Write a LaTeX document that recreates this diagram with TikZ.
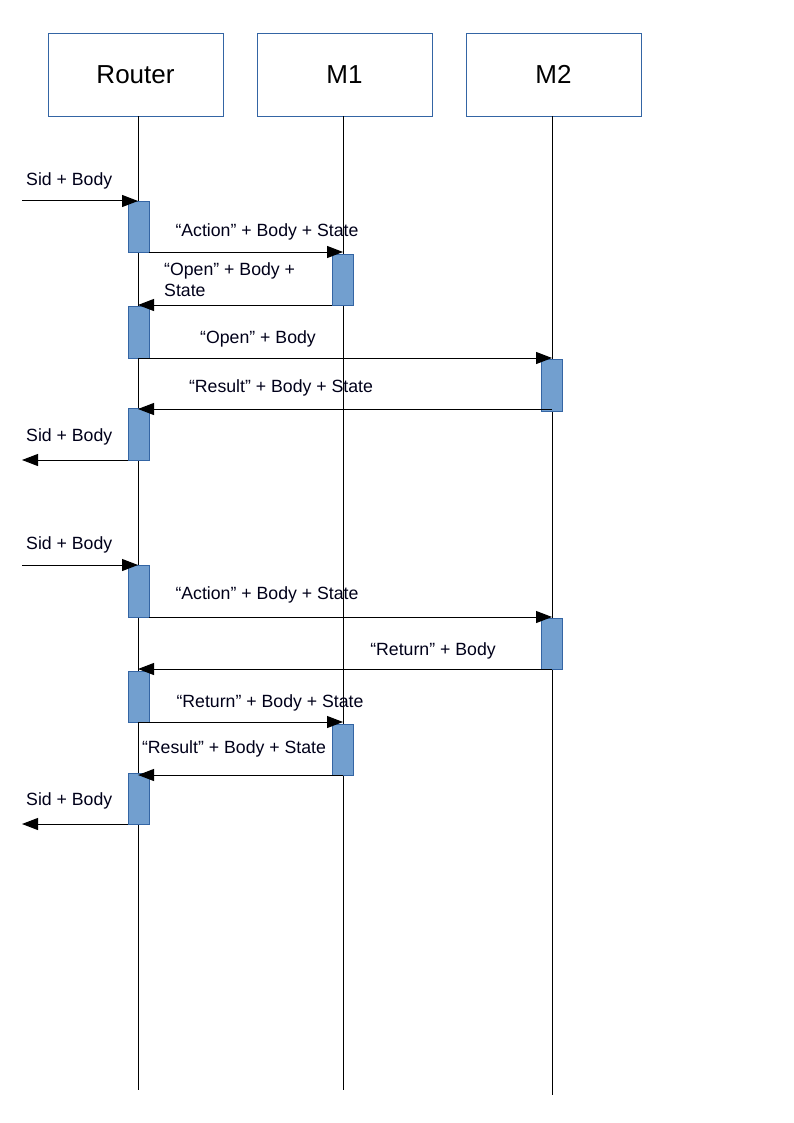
\documentclass[tikz,border=0pt]{standalone}
\usepackage{fontspec}
\setmainfont{Liberation Sans}
\usetikzlibrary{arrows.meta}
\definecolor{boxline}{HTML}{3465A4}
\definecolor{barfill}{HTML}{729FCF}
\begin{document}
\begin{tikzpicture}[x=1pt,y=-1pt,
  actor/.style={draw=boxline,line width=0.9pt,fill=white,minimum width=175pt,minimum height=83pt,inner sep=0pt,font=\fontsize{26}{30}\selectfont},
  life/.style={line width=1pt},
  bar/.style={draw=boxline,fill=barfill,line width=0.9pt,minimum width=21pt,inner sep=0pt,outer sep=0pt},
  msg/.style={line width=1pt,-{Triangle[length=16pt,width=12pt]}},
  lbl/.style={font=\fontsize{17.7}{21}\selectfont,inner sep=0pt,text=black!90!blue}]
\useasboundingbox (0,0) rectangle (794,1123);
% actors
\node[actor] (R) at (135.5,74.5) {Router};
\node[actor] (M1) at (344.5,74.5) {M1};
\node[actor] (M2) at (553.5,74.5) {M2};
\coordinate (Rend) at (138,1090);
\coordinate (M1end) at (343,1090);
\coordinate (M2end) at (552,1095);
\coordinate (edge) at (22,0);
\draw[life] (R.south -| Rend) -- (Rend);
\draw[life] (M1.south -| M1end) -- (M1end);
\draw[life] (M2.south -| M2end) -- (M2end);
% activation bars
\node[bar,minimum height=51pt,anchor=north] (b1) at (138.5,201) {};
\node[bar,minimum height=51pt,anchor=north] (m1a) at (342.5,254) {};
\node[bar,minimum height=52pt,anchor=north] (b2) at (138.5,306) {};
\node[bar,minimum height=52pt,anchor=north] (m2a) at (551.5,359) {};
\node[bar,minimum height=52pt,anchor=north] (b3) at (138.5,408) {};
\node[bar,minimum height=52pt,anchor=north] (b4) at (138.5,565) {};
\node[bar,minimum height=51pt,anchor=north] (m2b) at (551.5,618) {};
\node[bar,minimum height=51pt,anchor=north] (b5) at (138.5,671) {};
\node[bar,minimum height=51pt,anchor=north] (m1b) at (342.5,724) {};
\node[bar,minimum height=51pt,anchor=north] (b6) at (138.5,773) {};
% messages, first scenario
\draw[msg] (b1.north -| edge) -- (b1.north -| Rend);
\node[lbl,anchor=west] (t1) at (26,181) {Sid + Body};
\draw[msg] (b1.south east) -- (b1.south east -| M1end);
\node[lbl] (t2) at (267,232) {“Action” + Body + State};
\draw[msg] (m1a.south west) -- (m1a.south west -| Rend);
\node[lbl,anchor=west,align=left] (t3) at (164,280) {“Open” + Body +\\State};
\draw[msg] (b2.south -| Rend) -- (b2.south -| M2end);
\node[lbl] (t4) at (258,339) {“Open” + Body};
\draw[msg] ([yshift=2pt]m2a.south -| M2end) -- ([yshift=2pt]m2a.south -| Rend);
\node[lbl] (t5) at (281,388) {“Result” + Body + State};
\draw[msg] (b3.south west) -- (b3.south west -| edge);
\node[lbl,anchor=west] (t6) at (26,437) {Sid + Body};
% messages, second scenario
\draw[msg] (b4.north -| edge) -- (b4.north -| Rend);
\node[lbl,anchor=west] (t7) at (26,545) {Sid + Body};
\draw[msg] (b4.south east) -- (b4.south east -| M2end);
\node[lbl] (t8) at (267,595) {“Action” + Body + State};
\draw[msg] (m2b.south -| M2end) -- (m2b.south -| Rend);
\node[lbl] (t9) at (433,651) {“Return” + Body};
\draw[msg] (b5.south -| Rend) -- (b5.south -| M1end);
\node[lbl] (t10) at (270,703) {“Return” + Body + State};
\draw[msg] (m1b.south -| M1end) -- (m1b.south -| Rend);
\node[lbl] (t11) at (234,749) {“Result” + Body + State};
\draw[msg] (b6.south west) -- (b6.south west -| edge);
\node[lbl,anchor=west] (t12) at (26,801) {Sid + Body};
\end{tikzpicture}
\end{document}
